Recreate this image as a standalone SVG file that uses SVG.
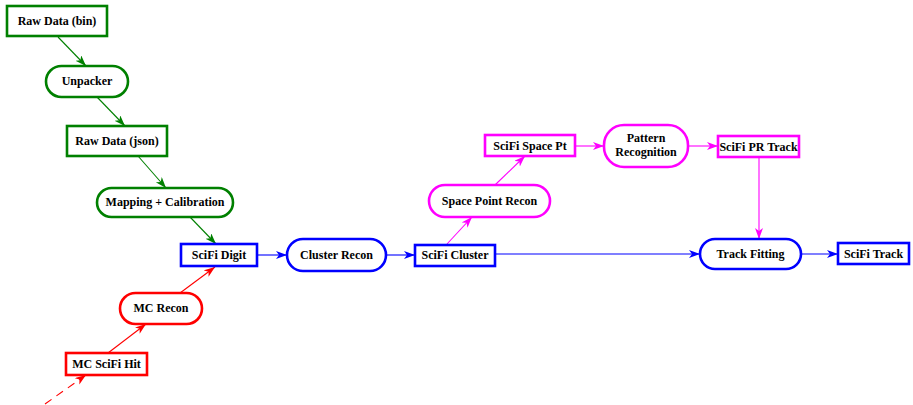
<svg xmlns="http://www.w3.org/2000/svg" width="913" height="405" viewBox="0 0 913 405">
<style>
text{font-family:"Liberation Serif","Times New Roman",serif;font-weight:bold;font-size:12px;text-anchor:middle;fill:#000}
.n{fill:#fff;stroke-width:2.6}
.g{stroke:#008000}.b{stroke:#0000ff}.r{stroke:#ff0000}.m{stroke:#ff00ff}
.e{fill:none;stroke-width:1.1}
</style>
<defs>
<marker id="ag" markerUnits="userSpaceOnUse" markerWidth="12" markerHeight="10" refX="11" refY="4" orient="auto"><path d="M0,0 L11,4 L0,8 L3,4 z" fill="#008000"/></marker>
<marker id="ab" markerUnits="userSpaceOnUse" markerWidth="12" markerHeight="10" refX="11" refY="4" orient="auto"><path d="M0,0 L11,4 L0,8 L3,4 z" fill="#0000ff"/></marker>
<marker id="ar" markerUnits="userSpaceOnUse" markerWidth="12" markerHeight="10" refX="11" refY="4" orient="auto"><path d="M0,0 L11,4 L0,8 L3,4 z" fill="#ff0000"/></marker>
<marker id="am" markerUnits="userSpaceOnUse" markerWidth="12" markerHeight="10" refX="11" refY="4" orient="auto"><path d="M0,0 L11,4 L0,8 L3,4 z" fill="#ff00ff"/></marker>
</defs>
<g id="connectors">
<line class="e g" x1="58" y1="37" x2="86" y2="66" marker-end="url(#ag)"/>
<line class="e g" x1="97" y1="97" x2="125" y2="126" marker-end="url(#ag)"/>
<line class="e g" x1="138" y1="156" x2="166" y2="188" marker-end="url(#ag)"/>
<line class="e g" x1="190" y1="217" x2="216" y2="244" marker-end="url(#ag)"/>
<line class="e r" x1="108" y1="353" x2="146" y2="324" marker-end="url(#ar)"/>
<line class="e r" x1="180" y1="293" x2="215" y2="267" marker-end="url(#ar)"/>
<line class="e r" x1="45" y1="404" x2="86" y2="375" stroke-dasharray="8,6" marker-end="url(#ar)"/>
<line class="e b" x1="258" y1="255" x2="287" y2="255" marker-end="url(#ab)"/>
<line class="e b" x1="386" y1="255" x2="415" y2="255" marker-end="url(#ab)"/>
<line class="e b" x1="495" y1="254" x2="700" y2="254" marker-end="url(#ab)"/>
<line class="e b" x1="801" y1="254" x2="838" y2="254" marker-end="url(#ab)"/>
<line class="e m" x1="447" y1="244" x2="472" y2="217" marker-end="url(#am)"/>
<line class="e m" x1="495" y1="185" x2="525" y2="156" marker-end="url(#am)"/>
<line class="e m" x1="575" y1="146" x2="604" y2="146" marker-end="url(#am)"/>
<line class="e m" x1="688" y1="146" x2="718" y2="146" marker-end="url(#am)"/>
<line class="e m" x1="759" y1="157" x2="759" y2="239" marker-end="url(#am)"/>
</g>
<g id="raw-bin"><rect class="n g" x="7" y="6" width="100" height="30"/><text x="57" y="25">Raw Data (bin)</text></g>
<g id="unpacker"><rect class="n g" x="46" y="66" width="82" height="31" rx="15.5"/><text x="87" y="85">Unpacker</text></g>
<g id="raw-json"><rect class="n g" x="67" y="126" width="100" height="30"/><text x="117" y="145">Raw Data (json)</text></g>
<g id="mapping"><rect class="n g" x="97" y="188" width="136" height="29" rx="14.5"/><text x="165" y="206">Mapping + Calibration</text></g>
<g id="scifi-digit"><rect class="n b" x="181" y="244" width="76" height="22"/><text x="219" y="259">SciFi Digit</text></g>
<g id="mc-recon"><rect class="n r" x="120" y="293" width="82" height="31" rx="15.5"/><text x="161" y="312">MC Recon</text></g>
<g id="mc-scifi-hit"><rect class="n r" x="66" y="353" width="81" height="22"/><text x="106.5" y="368">MC SciFi Hit</text></g>
<g id="cluster-recon"><rect class="n b" x="287" y="239" width="99" height="32" rx="16"/><text x="336.5" y="259">Cluster Recon</text></g>
<g id="scifi-cluster"><rect class="n b" x="415" y="245" width="80" height="21"/><text x="455" y="259">SciFi Cluster</text></g>
<g id="space-point-recon"><rect class="n m" x="429" y="185" width="121" height="32" rx="16"/><text x="489.5" y="205">Space Point Recon</text></g>
<g id="scifi-space-pt"><rect class="n m" x="485" y="135" width="90" height="21"/><text x="530" y="149.5">SciFi Space Pt</text></g>
<g id="pattern-recognition"><rect class="n m" x="604" y="125" width="84" height="42" rx="20"/><text x="646" y="142">Pattern</text><text x="646" y="156">Recognition</text></g>
<g id="scifi-pr-track"><rect class="n m" x="718" y="136" width="81" height="21"/><text x="758.5" y="150.5">SciFi PR Track</text></g>
<g id="track-fitting"><rect class="n b" x="700" y="239" width="101" height="30" rx="15"/><text x="750.5" y="258">Track Fitting</text></g>
<g id="scifi-track"><rect class="n b" x="838" y="243" width="71" height="21"/><text x="873.5" y="257.5">SciFi Track</text></g>
</svg>
